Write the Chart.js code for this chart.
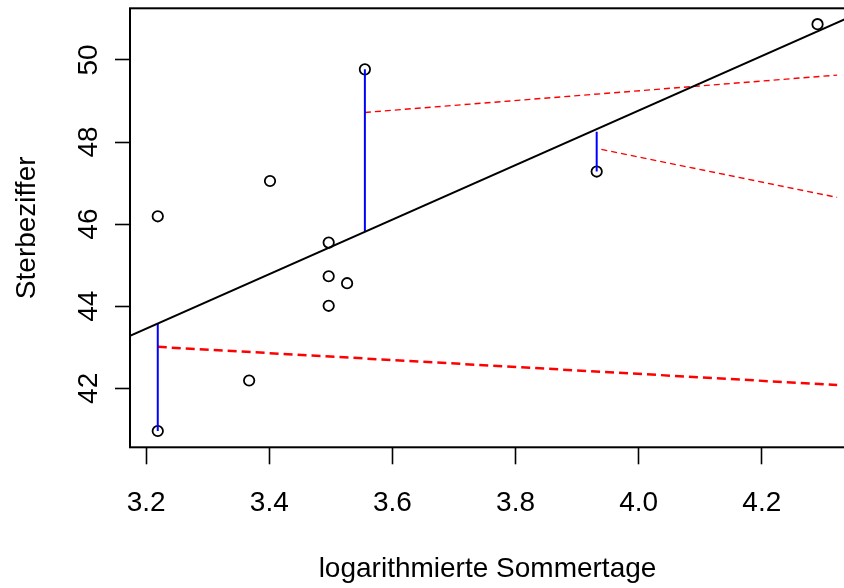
<!DOCTYPE html>
<html>
<head>
<meta charset="utf-8">
<script src="https://cdn.jsdelivr.net/npm/chart.js@4"></script>
<style>
  html, body { margin: 0; padding: 0; background: #fff; overflow: hidden; }
  #wrap { width: 852px; height: 588px; }
</style>
</head>
<body>
<div id="wrap"><canvas id="residualChart"></canvas></div>
<script>
// Sterbeziffer vs. logarithmierte Sommertage (Residuen + Regressionsgerade)

const sommertageLog = [3.2189, 3.2189, 3.3673, 3.4012, 3.4965, 3.4965, 3.4965, 3.5264, 3.5553, 3.9318, 4.2905];
const sterbeziffer  = [40.96, 46.19, 42.19, 47.05, 45.55, 44.73, 44.01, 44.56, 49.77, 47.28, 50.87];

// fitted line, read at the left and right border of the plot
const fitX = [3.1738, 4.3351];
const fitY = [43.28, 50.99];

// residuals (blue)
const residX    = [3.2189, 3.5553, 3.9318];
const residFrom = [40.96, 49.77, 47.28];
const residTo   = [43.58, 45.83, 48.25];

// red dashed lines: start x, start y, end x, end y
const redStartX = [3.2189, 3.5553, 3.9394];
const redStartY = [43.01, 48.72, 47.82];
const redEndX   = [4.3223, 4.3223, 4.3223];
const redEndY   = [42.08, 49.63, 46.65];
const redWidth  = [2.5, 1.4, 1.4];
const redDash   = [[9, 5], [6, 4], [6, 4]];

const xTicks = [3.2, 3.4, 3.6, 3.8, 4.0, 4.2];
const yTicks = [42, 44, 46, 48, 50];

Chart.defaults.font.family = "'Liberation Sans', Arial, Helvetica, sans-serif";
Chart.defaults.font.size = 28;
Chart.defaults.color = "#000";

const labelFont = { family: "'Liberation Sans', Arial, Helvetica, sans-serif", size: 28 };

const datasets = [];

datasets.push({
    type: "scatter",
    label: "Daten",
    data: sommertageLog.map((x, i) => ({ x: x, y: sterbeziffer[i] })),
    pointStyle: "circle",
    pointRadius: 5.2,
    pointBorderWidth: 1.8,
    borderColor: "#000",
    backgroundColor: "rgba(0,0,0,0)",
    order: 5
});

datasets.push({
    type: "line",
    label: "Regression",
    data: fitX.map((x, i) => ({ x: x, y: fitY[i] })),
    borderColor: "#000",
    borderWidth: 2,
    pointRadius: 0,
    order: 1
});

residX.forEach((x, i) => {
    datasets.push({
        type: "line",
        label: "Residuum " + (i + 1),
        data: [{ x: x, y: residFrom[i] }, { x: x, y: residTo[i] }],
        borderColor: "#0000FF",
        borderWidth: 2,
        pointRadius: 0,
        order: 2
    });
});

redStartX.forEach((x, i) => {
    datasets.push({
        type: "line",
        label: "rot " + (i + 1),
        data: [{ x: x, y: redStartY[i] }, { x: redEndX[i], y: redEndY[i] }],
        borderColor: "#FF0000",
        borderWidth: redWidth[i],
        borderDash: redDash[i],
        pointRadius: 0,
        order: 3
    });
});

const boxPlugin = {
    id: "box",
    afterDraw(chart) {
        const a = chart.chartArea;
        const c = chart.ctx;
        c.save();
        c.strokeStyle = "#000";
        c.lineWidth = 2;
        c.strokeRect(a.left, a.top, a.right - a.left, a.bottom - a.top);
        c.restore();
    }
};

const ctx = document.getElementById("residualChart");

new Chart(ctx, {
    type: "scatter",
    data: { datasets: datasets },
    options: {
        responsive: true,
        maintainAspectRatio: false,
        animation: false,
        layout: { padding: { top: 8.3, left: 0, right: 0, bottom: 0 } },
        plugins: {
            legend: { display: false },
            tooltip: { enabled: false }
        },
        scales: {
            x: {
                type: "linear",
                position: "bottom",
                min: 3.1738,
                max: 4.3351,
                afterBuildTicks: s => { s.ticks = xTicks.map(v => ({ value: v })); },
                afterFit: s => { s.height = 140.7; s.paddingLeft = 0; s.paddingRight = 0; },
                border: { display: false },
                grid: { drawOnChartArea: false, drawTicks: true, tickLength: 17, tickColor: "#000", tickWidth: 1.6 },
                ticks: { font: labelFont, padding: 22.5, maxRotation: 0, autoSkip: false, callback: v => v.toFixed(1) },
                title: { display: true, font: labelFont, text: "logarithmierte Sommertage", padding: { top: 0, bottom: 2 } }
            },
            y: {
                type: "linear",
                position: "left",
                min: 40.563,
                max: 51.257,
                afterBuildTicks: s => { s.ticks = yTicks.map(v => ({ value: v })); },
                afterFit: s => { s.width = 130; s.paddingTop = 0; s.paddingBottom = 0; },
                border: { display: false },
                grid: { drawOnChartArea: false, drawTicks: true, tickLength: 15, tickColor: "#000", tickWidth: 1.6 },
                ticks: { font: labelFont, padding: 10.4, minRotation: 90, maxRotation: 90, crossAlign: "center", autoSkip: false, callback: v => String(v) },
                title: { display: true, font: labelFont, text: "Sterbeziffer", padding: { top: 10, bottom: 0 } }
            }
        }
    },
    plugins: [boxPlugin]
});
</script>
</body>
</html>
